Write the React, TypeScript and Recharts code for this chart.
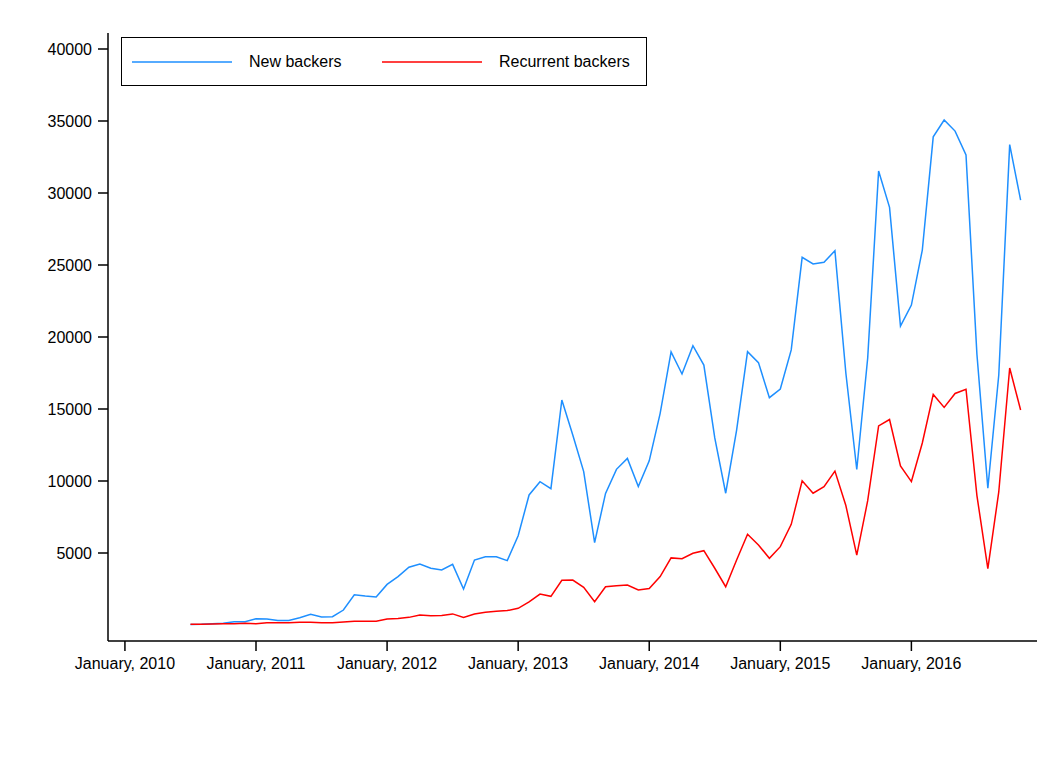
import React from 'react';
import { LineChart, Line, XAxis, YAxis } from 'recharts';

// months counted from January 2010 (0); the series start in July 2010
const firstMonth = 6;

const newBackers = [
  30, 50, 90, 115, 230, 230,
  440, 420, 320, 320, 510, 740, 560, 580, 1040, 2100, 2010, 1940,
  2820, 3360, 4010, 4240, 3940, 3820, 4210, 2500, 4510, 4740, 4740, 4470,
  6200, 9030, 9950, 9470, 15625, 13190, 10650, 5720, 9140, 10810, 11570, 9610,
  11400, 14700, 18960, 17430, 19400, 18050, 12990, 9150, 13540, 18980, 18220, 15790,
  16390, 19100, 25530, 25070, 25190, 25990, 17500, 10800, 18540, 31530, 29000, 20760,
  22220, 26040, 33900, 35070, 34300, 32640, 18800, 9500, 17360, 33360, 29500,
];

const recurrentBackers = [
  50, 50, 70, 90, 90, 115,
  90, 160, 160, 160, 185, 185, 160, 160, 208, 255, 255, 255,
  415, 450, 530, 690, 640, 660, 770, 515, 760, 880, 950, 1000,
  1160, 1600, 2150, 1990, 3100, 3125, 2620, 1620, 2660, 2730, 2780, 2430,
  2540, 3360, 4660, 4600, 4980, 5160, 3940, 2660, 4510, 6300, 5560, 4630,
  5440, 6990, 10020, 9150, 9610, 10690, 8300, 4850, 8630, 13830, 14270, 11040,
  9960, 12640, 16010, 15110, 16080, 16370, 8990, 3920, 9240, 17850, 14930,
];

const xTicks = [0, 12, 24, 36, 48, 60, 72];
const xTickLabels = [
  'January, 2010',
  'January, 2011',
  'January, 2012',
  'January, 2013',
  'January, 2014',
  'January, 2015',
  'January, 2016',
];
const yTicks = [5000, 10000, 15000, 20000, 25000, 30000, 35000, 40000];

const series = [
  { key: 'newBackers', name: 'New backers', color: '#1e8fff' },
  { key: 'recurrentBackers', name: 'Recurrent backers', color: '#ff0000' },
];

const data = newBackers.map((v, i) => ({
  month: firstMonth + i,
  newBackers: v,
  recurrentBackers: recurrentBackers[i],
}));

const font = "'Liberation Sans', Arial, Helvetica, sans-serif";
const axisStyle = { stroke: '#000', strokeWidth: 1.5 };
const tickStyle = { fill: '#000', fontSize: 16, fontFamily: font };

function LegendBox() {
  return (
    <div
      style={{
        position: 'absolute',
        left: 121,
        top: 37,
        width: 524,
        height: 47,
        border: '1.5px solid #000',
        background: '#fff',
        fontFamily: font,
        fontSize: 16,
        color: '#000',
      }}
    >
      {series.map((s, i) => (
        <div
          key={s.key}
          style={{
            position: 'absolute',
            left: i === 0 ? 10 : 260,
            top: 0,
            height: 47,
            display: 'flex',
            alignItems: 'center',
          }}
        >
          <svg width={100} height={4} style={{ display: 'block' }}>
            <line x1={0} y1={2} x2={100} y2={2} stroke={s.color} strokeWidth={1.5} />
          </svg>
          <span style={{ marginLeft: 17, whiteSpace: 'nowrap' }}>{s.name}</span>
        </div>
      ))}
    </div>
  );
}

export default function App() {
  return (
    <div
      style={{
        position: 'relative',
        width: 1051,
        height: 773,
        margin: -8,
        background: '#fff',
        overflow: 'hidden',
      }}
    >
      <div
        style={{
          position: 'absolute',
          left: 5,
          top: 5,
          right: -2,
          bottom: -2,
          borderLeft: '1px solid #dedede',
          borderTop: '1px solid #dedede',
        }}
      />
      <LineChart
        width={1051}
        height={773}
        data={data}
        margin={{ top: 33, right: 14, left: 0, bottom: 92 }}
        style={{ position: 'absolute', left: 0, top: 0 }}
      >
        <XAxis
          dataKey="month"
          type="number"
          domain={[-1.55, 83.5]}
          ticks={xTicks}
          tickFormatter={(v: number) => xTickLabels[xTicks.indexOf(v)]}
          axisLine={axisStyle}
          tickLine={axisStyle}
          tickSize={10}
          tickMargin={7}
          tick={tickStyle}
          height={40}
          interval={0}
          allowDataOverflow
        />
        <YAxis
          type="number"
          domain={[-1111, 41111]}
          ticks={yTicks}
          axisLine={axisStyle}
          tickLine={axisStyle}
          tickSize={10}
          tickMargin={6}
          tick={tickStyle}
          width={108}
          interval={0}
          allowDataOverflow
        />
        {series.map((s) => (
          <Line
            key={s.key}
            type="linear"
            dataKey={s.key}
            name={s.name}
            stroke={s.color}
            strokeWidth={1.5}
            dot={false}
            isAnimationActive={false}
          />
        ))}
      </LineChart>
      <LegendBox />
    </div>
  );
}
